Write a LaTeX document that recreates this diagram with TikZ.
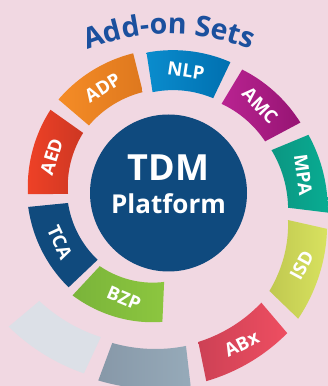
\documentclass[tikz,border=0pt]{standalone}
\usepackage{fontspec}
\setmainfont{Open Sans}
\usetikzlibrary{decorations.text}

\definecolor{bgpink}{RGB}{241,216,226}
\definecolor{coreblue}{RGB}{15,74,126}
\definecolor{titleblue}{RGB}{27,80,158}

\tikzset{seglabel/.style={text=white,font=\bfseries\fontsize{18.5}{18.5}\selectfont,inner sep=0pt},
         core/.style={circle,fill=coreblue,minimum size=157pt,inner sep=0pt}}

% spiral ring piece: style, start angle, end angle, inner radius at start, inner radius at end
\newcommand{\ringseg}[5]{%
  \shade[#1] plot[domain=#2:#3,samples=24] (\x:{#4+(\x-#2)*(#5-#4)/(#3-#2)})
    -- plot[domain=#3:#2,samples=24] (\x:{#4+(\x-#2)*(#5-#4)/(#3-#2)+40}) -- cycle;}

\begin{document}
\begin{tikzpicture}[x=1pt,y=1pt]
    \useasboundingbox (0,0) rectangle (328,386);
    \clip (0,0) rectangle (328,386);
    \fill[bgpink] (0,0) rectangle (328,386);

    \path[decorate,decoration={text along path,text align=center,
        text={|\bfseries\fontsize{28.5}{28.5}\selectfont\color{titleblue}|Add-on Sets}}]
        (169,132) ++(122:220) arc[start angle=122,end angle=58,radius=220];

    \node[core] (core) at (168.5,193) {};
    \node[text=white,font=\bfseries\fontsize{36}{36}\selectfont,anchor=base] (tdm) at (168.5,205) {TDM};
    \node[text=white,font=\bfseries\fontsize{26}{26}\selectfont,anchor=base] (platform) at (168.5,172) {Platform};

    \begin{scope}[shift={(168,193)}]
        \ringseg{left color={rgb,255:red,245;green,140;blue,38},right color={rgb,255:red,222;green,120;blue,30}}{104}{139.5}{104}{104}
        \ringseg{left color={rgb,255:red,10;green,140;blue,205},right color={rgb,255:red,0;green,112;blue,176}}{64.5}{98.7}{105}{102}
        \ringseg{left color={rgb,255:red,185;green,35;blue,145},right color={rgb,255:red,150;green,20;blue,115}}{28}{59}{110}{104}
        \ringseg{left color={rgb,255:red,12;green,150;blue,130},right color={rgb,255:red,8;green,172;blue,146}}{-7}{22.5}{121}{112}
        \ringseg{left color={rgb,255:red,192;green,200;blue,80},right color={rgb,255:red,216;green,226;blue,95}}{-44}{-12.7}{141}{123}
        \ringseg{left color={rgb,255:red,205;green,65;blue,85},right color={rgb,255:red,238;green,78;blue,97}}{-78.5}{-49.6}{152}{144}
        \ringseg{left color={rgb,255:red,135;green,152;blue,168},right color={rgb,255:red,150;green,170;blue,185}}{-110.4}{-83.3}{160}{154}
        \ringseg{left color={rgb,255:red,220;green,224;blue,231},right color={rgb,255:red,220;green,224;blue,231}}{-140}{-115}{168}{159}
        \ringseg{left color={rgb,255:red,122;green,180;blue,58},right color={rgb,255:red,140;green,198;blue,63}}{227}{267.5}{100}{89}
        \ringseg{left color={rgb,255:red,16;green,74;blue,125},right color={rgb,255:red,16;green,74;blue,125}}{185.7}{223.5}{100.5}{97}
        \ringseg{left color={rgb,255:red,238;green,65;blue,38},right color={rgb,255:red,205;green,55;blue,35}}{144.7}{180.5}{104}{100}

        \node[seglabel,rotate=31.8] (adp) at (121.8:124) {ADP};
        \node[seglabel,rotate=-8.4] (nlp) at (81.6:123.5) {NLP};
        \node[seglabel,rotate=-46.5] (amc) at (43.5:127) {AMC};
        \node[seglabel,rotate=-82.3] (mpa) at (7.7:136.5) {MPA};
        \node[seglabel,rotate=61.6] (isd) at (-28.4:152) {ISD};
        \node[seglabel,rotate=26] (abx) at (-64:168) {ABx};
        \node[seglabel,rotate=-22.8] (bzp) at (247.2:114) {BZP};
        \node[seglabel,rotate=-65.4] (tca) at (204.6:119) {TCA};
        \node[seglabel,rotate=72.6] (aed) at (162.6:122) {AED};
    \end{scope}
\end{tikzpicture}
\end{document}
